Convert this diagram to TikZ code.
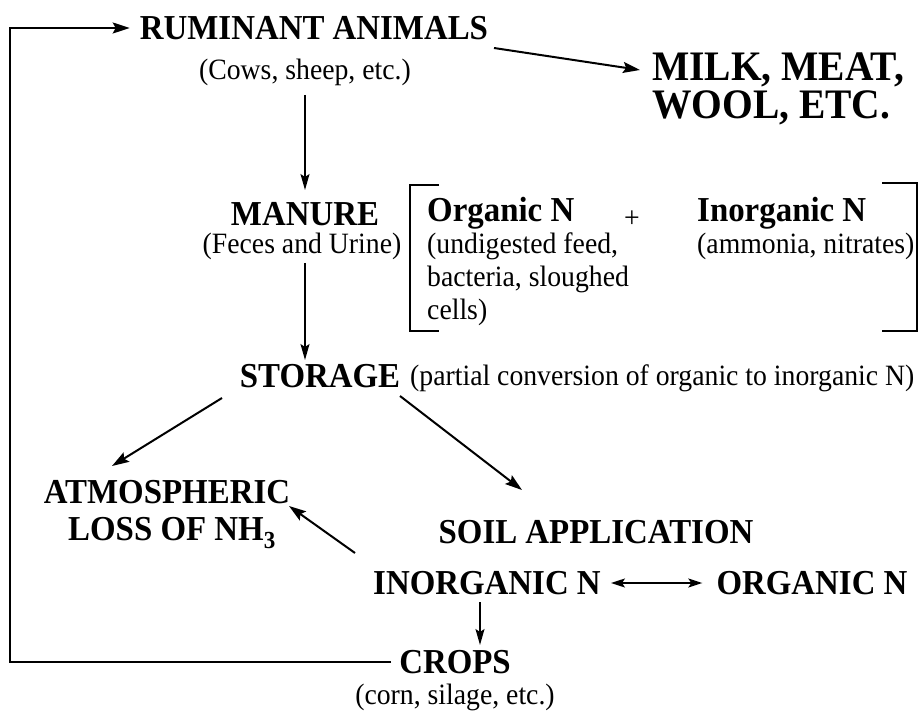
\documentclass[tikz,border=0pt]{standalone}
\usepackage{fontspec}
\setmainfont{Liberation Serif}[FakeStretch=0.94]
\usetikzlibrary{arrows.meta}
\tikzset{
  bigtxt/.style={inner sep=0pt, font=\fontsize{35}{38}\selectfont\bfseries},
  hugetxt/.style={inner sep=0pt, font=\fontsize{42}{44}\selectfont\bfseries},
  smalltxt/.style={inner sep=0pt, font=\fontsize{29.5}{32}\selectfont},
  arr/.style={line width=2pt, -{Stealth[length=17pt,width=11pt,inset=3pt]}},
  thinarr/.style={line width=1.5pt, -{Stealth[length=16pt,width=9pt,inset=3pt]}},
  dblarr/.style={line width=1.6pt, {Stealth[length=14pt,width=9pt,inset=3pt]}-{Stealth[length=14pt,width=9pt,inset=3pt]}},
  brack/.style={line width=1.4pt}
}
\begin{document}
\begin{tikzpicture}[x=1pt,y=-1pt]
\useasboundingbox (0,0) rectangle (922,714);
% texts
\node[bigtxt] (rum) at (314,28) {RUMINANT ANIMALS};
\node[smalltxt] (cows) at (305,72) {(Cows, sheep, etc.)};
\node[hugetxt, anchor=west] (milk) at (652,70) {MILK, MEAT,};
\node[hugetxt, anchor=west] (wool) at (652,108) {WOOL, ETC.};
\node[bigtxt] (man) at (305,214) {MANURE};
\node[smalltxt] (fec) at (302,246) {(Feces and Urine)};
\node[bigtxt, anchor=west] (orgn) at (427,213) {Organic N};
\node[smalltxt, anchor=west] (und) at (427,246) {(undigested feed,};
\node[smalltxt, anchor=west] (bac) at (427,279) {bacteria, sloughed};
\node[smalltxt, anchor=west] (cel) at (427,312) {cells)};
\node[smalltxt] (plus) at (632,219) {+};
\node[bigtxt, anchor=west] (inorgn) at (697,213) {Inorganic N};
\node[smalltxt, anchor=west] (amm) at (697,246) {(ammonia, nitrates)};
\node[bigtxt] (sto) at (320,376) {STORAGE};
\node[smalltxt, anchor=west] (part) at (410,378) {(partial conversion of organic to inorganic N)};
\node[bigtxt] (atm) at (167,492) {ATMOSPHERIC};
\node[bigtxt] (loss) at (172,533) {LOSS OF NH\textsubscript{3}};
\node[bigtxt] (soil) at (596,532) {SOIL APPLICATION};
\node[bigtxt] (inorg) at (487,583) {INORGANIC N};
\node[bigtxt] (org) at (812,583) {ORGANIC N};
\node[bigtxt] (crops) at (455,662) {CROPS};
\node[smalltxt] (corn) at (455,697) {(corn, silage, etc.)};
% brackets
\draw[brack] (439,185) -- (410,185) -- (410,331) -- (439,331);
\draw[brack] (882,183) -- (917,183) -- (917,331) -- (882,331);
% coordinates
\coordinate (lb) at (10,662);
\coordinate (lt) at (10,28);
% connectors
\draw[line width=2pt, -{Stealth[length=17pt,width=11pt,inset=3pt]}] ([xshift=-8pt]crops.west) -- (lb) -- (lt) -- ([xshift=-10pt]rum.west);
\draw[arr] (494,48) -- ([xshift=-12pt]milk.west);
\draw[thinarr] (305,95) -- (305,190);
\draw[thinarr] (305,263) -- (305,360);
\draw[arr] (222,398) -- (112,466);
\draw[arr] (400,396) -- (522,490);
\draw[arr] (355,553) -- (289,506);
\draw[dblarr] ([xshift=10pt]inorg.east) -- ([xshift=-14pt]org.west);
\draw[thinarr] (480,602) -- (480,645);
\end{tikzpicture}
\end{document}
